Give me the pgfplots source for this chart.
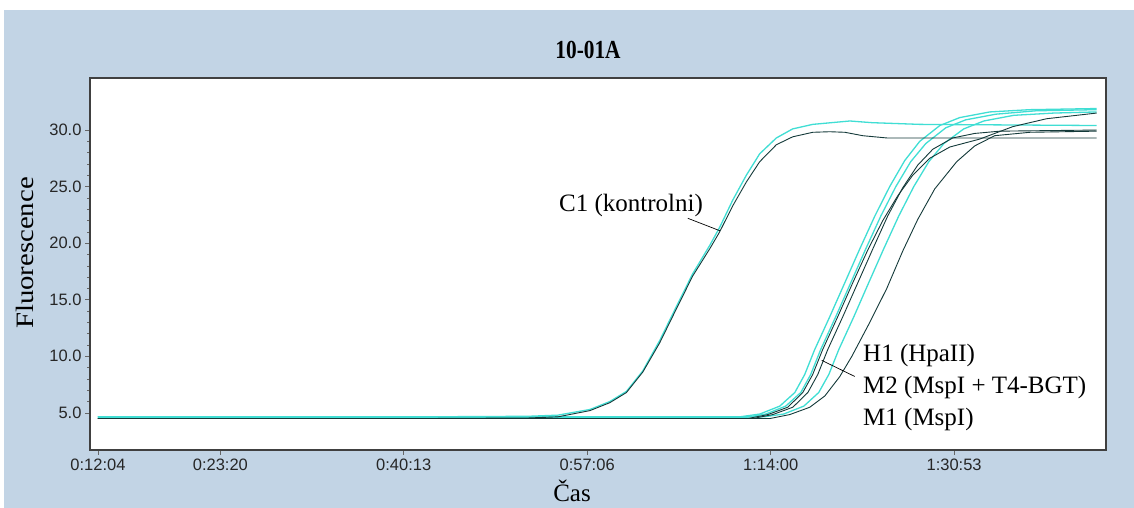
\documentclass[border=0pt]{standalone}
\usepackage{pgfplots}
\pgfplotsset{compat=1.18}
\usepackage{fontspec}
\setmainfont{Liberation Serif}
\newfontfamily\arial{Liberation Sans}
\definecolor{bgblue}{RGB}{194,212,229}
\definecolor{cyanl}{RGB}{64,222,212}
\definecolor{darkl}{RGB}{20,58,58}
\begin{document}
\begin{tikzpicture}[x=1pt,y=1pt]
\fill[white] (0,0) rectangle (1134,508);
\fill[bgblue] (4,0) rectangle (1134,498);
\begin{axis}[at={(90pt,58pt)}, anchor=south west, scale only axis,
  width=1016pt, height=372pt,
  xmin=680, xmax=6292, ymin=1.72, ymax=34.6,
  axis background/.style={fill=white},
  axis line style={black!75, line width=1.2pt},
  tick pos=left, tick align=outside,
  tick style={black!60, line width=0.6pt},
  major tick length=5pt, minor tick length=3pt,
  xtick={724,1400,2413,3426,4440,5453},
  xticklabels={0:12:04,0:23:20,0:40:13,0:57:06,1:14:00,1:30:53},
  ytick={5,10,15,20,25,30}, minor y tick num=4,
  yticklabel style={/pgf/number format/.cd, fixed, fixed zerofill, precision=1, assume math mode=true},
  ticklabel style={font=\arial\fontsize{16.5}{16.5}\selectfont, text=black!85},
  every axis plot/.append style={line join=round},
]
% C1 cyan
\addplot[cyanl, line width=1.3pt] coordinates {(724,4.65) (2500,4.65) (3100,4.7) (3264,4.8) (3441,5.3) (3551,6.0) (3643,6.9) (3733,8.7) (3827,11.4) (3919,14.4) (4009,17.3) (4103,19.8) (4158,21.4) (4230,23.8) (4305,26.0) (4379,27.9) (4471,29.3) (4561,30.1) (4672,30.5) (4877,30.8) (5000,30.65) (5263,30.5) (6240,30.4)};
% late cyan
\addplot[cyanl, line width=1.3pt] coordinates {(724,4.65) (3000,4.65) (4269,4.65) (4380,4.9) (4490,5.6) (4573,6.8) (4628,8.4) (4683,10.6) (4766,13.5) (4849,16.5) (4932,19.5) (5015,22.4) (5097,25.0) (5180,27.3) (5263,29.0) (5374,30.4) (5484,31.1) (5650,31.6) (5871,31.8) (6240,31.9)};
\addplot[cyanl, line width=1.3pt] coordinates {(724,4.6) (4302,4.6) (4413,4.9) (4523,5.6) (4606,6.8) (4661,8.4) (4716,10.6) (4799,13.5) (4882,16.5) (4965,19.5) (5048,22.4) (5131,25.0) (5213,27.2) (5296,28.8) (5407,30.2) (5517,30.9) (5683,31.4) (5904,31.7) (6240,31.8)};
\addplot[cyanl, line width=1.3pt] coordinates {(724,4.65) (4402,4.65) (4512,4.9) (4623,5.6) (4705,6.8) (4761,8.4) (4816,10.6) (4899,13.5) (4981,16.5) (5064,19.5) (5147,22.4) (5230,25.0) (5313,27.2) (5396,28.8) (5506,30.1) (5617,30.8) (5782,31.3) (6003,31.5) (6240,31.6)};
% C1 dark
\addplot[darkl, line width=0.9pt] coordinates {(724,4.5) (2500,4.5) (3100,4.55) (3264,4.65) (3441,5.2) (3551,5.9) (3643,6.8) (3733,8.6) (3827,11.2) (3919,14.2) (4009,17.1) (4103,19.5) (4158,21.0) (4230,23.3) (4305,25.4) (4379,27.2) (4471,28.7) (4561,29.4) (4672,29.8) (4766,29.85) (4850,29.8) (4948,29.5) (5081,29.3) (6240,29.3)};
% late dark
\addplot[darkl, line width=0.9pt] coordinates {(724,4.5) (4313,4.5) (4424,4.85) (4534,5.5) (4617,6.8) (4672,8.4) (4727,10.6) (4810,13.5) (4893,16.5) (4976,19.4) (5059,22.0) (5142,24.2) (5224,26.0) (5318,27.5) (5429,28.5) (5594,29.2) (5777,30.3) (5964,31.0) (6240,31.5)};
\addplot[darkl, line width=0.9pt] coordinates {(724,4.5) (4341,4.5) (4451,4.85) (4562,5.5) (4645,6.8) (4700,8.4) (4755,10.6) (4838,13.5) (4921,16.5) (5004,19.5) (5086,22.4) (5169,24.9) (5252,26.9) (5335,28.3) (5445,29.3) (5567,29.7) (5705,29.9) (6240,30.0)};
\addplot[darkl, line width=0.9pt] coordinates {(724,4.5) (4435,4.5) (4545,4.85) (4656,5.5) (4739,6.5) (4821,8.2) (4888,10.0) (4987,13.0) (5081,16.0) (5169,19.3) (5252,22.1) (5346,24.8) (5467,27.2) (5567,28.6) (5677,29.5) (5871,29.8) (6240,29.9)};
% pointers
\draw[black, line width=0.7pt] (axis cs:3982,22.2) -- (axis cs:4159,21.1);
\draw[black, line width=0.7pt] (axis cs:4722,9.64) -- (axis cs:4904,8.22);
\end{axis}
\node[font=\fontsize{26}{26}\selectfont\bfseries] at (588,458) {\scalebox{0.82}[1]{10-01A}};
\node[rotate=90, font=\fontsize{25}{25}\selectfont] at (25,255) {\scalebox{1.15}[1]{Fluorescence}};
\node[font=\fontsize{25}{25}\selectfont] at (572,17) {Čas};
\node[anchor=base, inner sep=0pt, font=\fontsize{25}{25}\selectfont] at (631,296) {C1 (kontrolni)};
\node[anchor=base west, inner sep=0pt, font=\fontsize{25}{25}\selectfont] at (863,146) {H1 (HpaII)};
\node[anchor=base west, inner sep=0pt, font=\fontsize{25}{25}\selectfont] at (863,114) {M2 (MspI + T4-BGT)};
\node[anchor=base west, inner sep=0pt, font=\fontsize{25}{25}\selectfont] at (863,82) {M1 (MspI)};
\end{tikzpicture}
\end{document}
